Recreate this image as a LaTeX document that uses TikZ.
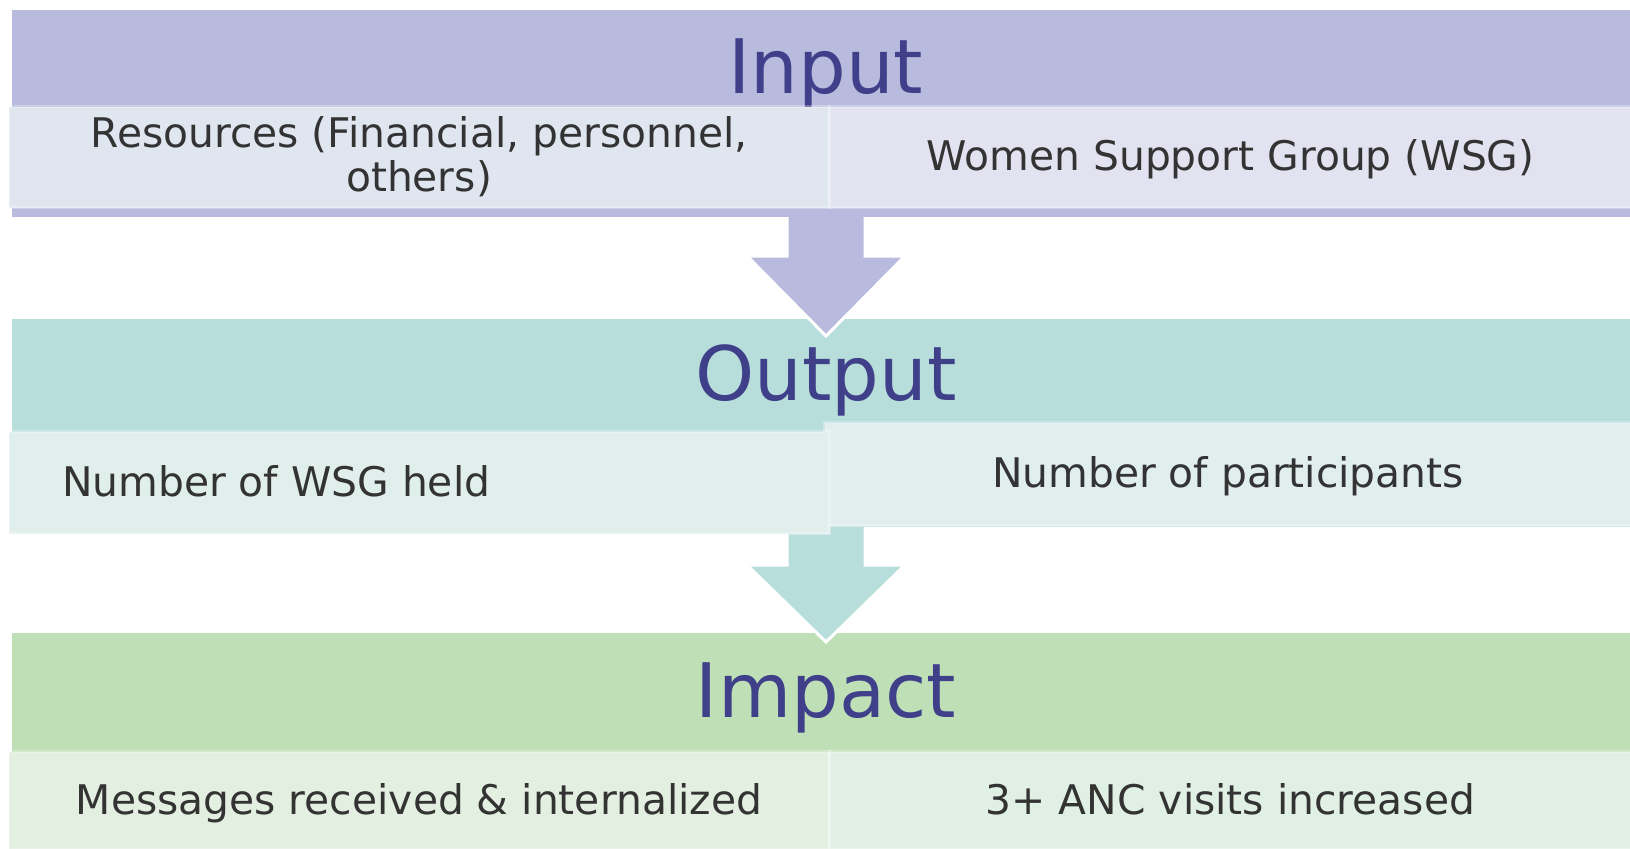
\documentclass[tikz,border=0pt]{standalone}
\usepackage{fontspec}
\setmainfont{DejaVu Sans}
\usetikzlibrary{positioning}

\definecolor{inband}{HTML}{B8BBDD}
\definecolor{outband}{HTML}{B7DEDA}
\definecolor{impband}{HTML}{BFE0B6}
\definecolor{inleft}{HTML}{DFE6F0}
\definecolor{inright}{HTML}{E2E2F0}
\definecolor{outleft}{HTML}{E0EFEB}
\definecolor{outright}{HTML}{E0EEEE}
\definecolor{impleft}{HTML}{E3EFE0}
\definecolor{impright}{HTML}{E0F0E4}
\definecolor{titlecol}{HTML}{3F3F8A}
\definecolor{txt}{HTML}{333333}

\tikzset{
  band/.style={rectangle, inner sep=0pt, minimum width=809pt, anchor=north west},
  cell/.style={rectangle, inner sep=0pt, anchor=north west, draw=white, draw opacity=0.3, line width=1.5pt},
  title/.style={font=\fontsize{37.6}{40}\selectfont, text=titlecol, anchor=base},
  txtlabel/.style={font=\fontsize{20.4}{22}\selectfont, text=txt, align=center},
  oneline/.style={txtlabel, text height=16.5pt, text depth=3pt},
  flow/.style={draw=white, line width=1.5pt}
}

\begin{document}
\begin{tikzpicture}[x=0.5pt, y=-0.5pt]
  \useasboundingbox (0,0) rectangle (1630,848);
  % bands and arrows, back to front
  \node[band, fill=impband, minimum height=107.5pt] (impact) at (12,633) {};
  \draw[flow, fill=outband] (787,500) -- (787,565) -- (747,565) -- (826,642)
    -- (905,565) -- (865,565) -- (865,500) -- cycle;
  \node[band, fill=outband, minimum height=104pt] (output) at (12,319) {};
  \draw[flow, fill=inband] (787,190) -- (787,256) -- (747,256) -- (826,336)
    -- (905,256) -- (865,256) -- (865,190) -- cycle;
  \node[band, fill=inband, minimum height=103.5pt] (input) at (12,10) {};

  % titles
  \node[title] (intitle) at (826,93) {Input};
  \node[title] (outtitle) at (826,400) {Output};
  \node[title] (imptitle) at (826,717) {Impact};

  % cells
  \node[cell, fill=inleft, minimum width=410.5pt, minimum height=50.5pt] (inl) at (7,105) {};
  \node[cell, fill=inright, minimum width=401pt, minimum height=50.5pt] (inr) at (828,105) {};
  \node[cell, fill=outright, minimum width=403.5pt, minimum height=51.5pt] (outr) at (823,421) {};
  \node[cell, fill=outleft, minimum width=410.5pt, minimum height=51pt] (outl) at (7,430) {};
  \node[cell, fill=impleft, minimum width=410.5pt, minimum height=49pt] (impl) at (7,750) {};
  \node[cell, fill=impright, minimum width=401pt, minimum height=49pt] (impr) at (828,750) {};

  % cell texts
  \node[txtlabel] (res) at (inl.center) {Resources (Financial, personnel,\\others)};
  \node[oneline] (wsg) at (inr.center) {Women Support Group (WSG)};
  \node[oneline, right=24pt of outl.west] (held) {Number of WSG held};
  \node[oneline] (part) at (outr.center) {Number of participants};
  \node[oneline] (msg) at (impl.center) {Messages received \& internalized};
  \node[oneline] (anc) at (impr.center) {3+ ANC visits increased};
\end{tikzpicture}
\end{document}
